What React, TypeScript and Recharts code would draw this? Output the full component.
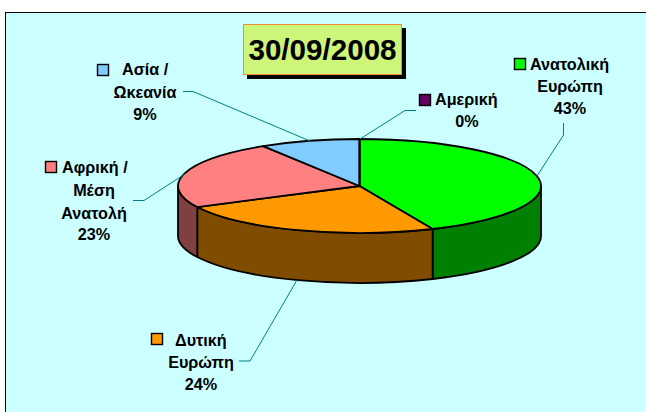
import { PieChart, Pie } from 'recharts';

const regions = ['Ανατολική Ευρώπη', 'Δυτική Ευρώπη', 'Αφρική / Μέση Ανατολή', 'Ασία / Ωκεανία', 'Αμερική'];
const shares = [43.4, 24.2, 23.49, 8.91, 0];
const topColors = ['#00ff00', '#ff9900', '#ff8080', '#80ccff', '#660066'];
const wallColors = ['#008000', '#804d00', '#804040', '#406680', '#330033'];
const chartTitle = '30/09/2008';

const tableData = regions.map((name, i) => ({
  name,
  value: shares[i],
  fill: topColors[i],
  wallFill: wallColors[i],
}));

// where each label sits, same order as regions
const labelLayout = [
  { lines: ['Ανατολική', 'Ευρώπη'], centers: [570, 570, 570], baselines: [70, 92, 114], key: [514, 58], leader: '563.5,123 563.5,135 537,176', keyText: 530 },
  { lines: ['Δυτική', 'Ευρώπη'], centers: [201, 201, 201], baselines: [346, 368, 390], key: [151, 333], leader: '239,361 250,361 297,280', keyText: 175 },
  { lines: ['Αφρική /', 'Μέση', 'Ανατολή'], centers: [94, 94, 94, 94], baselines: [173, 196, 219, 240], key: [45, 161], leader: '133,200.5 144,200.5 185,174', keyText: 62 },
  { lines: ['Ασία /', 'Ωκεανία'], centers: [145, 145, 145], baselines: [75, 98, 120], key: [97, 64], leader: '183,91.5 193,91.5 310,141', keyText: 122 },
  { lines: ['Αμερική'], centers: [467, 467], baselines: [105, 127], key: [419, 94], leader: '416,110.5 405,110.5 360,139', keyText: 435 },
];

const TILT = 47 / 181.5;
const DEPTH = 50;
const RAD = Math.PI / 180;

const pointOn = (cx: number, cy: number, r: number, deg: number) => ({
  x: cx + r * Math.cos(deg * RAD),
  y: cy - r * TILT * Math.sin(deg * RAD),
});

// flat top of a slice, the ellipse is squashed from the radius recharts hands over
const TopSlice = (props: any) => {
  const { cx, cy, outerRadius: r, startAngle, endAngle, fill } = props;
  const a = pointOn(cx, cy, r, startAngle);
  const b = pointOn(cx, cy, r, endAngle);
  const large = Math.abs(startAngle - endAngle) > 180 ? 1 : 0;
  const d = `M${cx},${cy} L${a.x},${a.y} A${r},${r * TILT} 0 ${large} 1 ${b.x},${b.y} Z`;
  return <path d={d} fill={fill} stroke="#000" strokeWidth={1.8} strokeLinejoin="round" />;
};

// outer wall, only the front half of the ellipse can be seen
const WallSlice = (props: any) => {
  const { cx, cy, outerRadius: r, startAngle, endAngle, wallFill } = props;
  const from = Math.min(startAngle, 0);
  const to = Math.max(endAngle, -180);
  if (from <= to) return <g />;
  const a = pointOn(cx, cy, r, from);
  const b = pointOn(cx, cy, r, to);
  const ry = r * TILT;
  const d = `M${a.x},${a.y} A${r},${ry} 0 0 1 ${b.x},${b.y} L${b.x},${b.y + DEPTH} A${r},${ry} 0 0 0 ${a.x},${a.y + DEPTH} Z`;
  return <path d={d} fill={wallFill} stroke="#000" strokeWidth={1.8} strokeLinejoin="round" />;
};

const renderLabel = (props: any) => {
  const { index, value, fill } = props;
  const item = labelLayout[index];
  const rows = [...item.lines, `${Math.round(value)}%`];
  return (
    <g key={index}>
      <rect x={item.key[0] + 0.5} y={item.key[1] + 0.5} width={11} height={11} fill={fill} stroke="#000" strokeWidth={1.4} />
      {rows.map((row, i) => (
        <text
          key={row}
          x={i === 0 ? item.keyText : item.centers[i]}
          y={item.baselines[i]}
          textAnchor={i === 0 ? 'start' : 'middle'}
          fontFamily="'Liberation Sans', Arial, sans-serif"
          fontWeight="bold"
          fontSize={16.2}
          fill="#000"
        >
          {row}
        </text>
      ))}
    </g>
  );
};

const renderLeader = (props: any) => (
  <polyline key={props.index} points={labelLayout[props.index].leader} fill="none" stroke="#008080" strokeWidth={1} />
);

export default function App() {
  return (
    <div style={{ position: 'absolute', left: 0, top: 0, width: 646, height: 412, background: '#fff', overflow: 'hidden' }}>
      <div
        style={{
          position: 'absolute',
          left: 5,
          top: 12,
          width: 641,
          height: 400,
          background: '#ccffff',
          borderLeft: '1px solid #000',
          borderTop: '1px solid #000',
          boxSizing: 'border-box',
        }}
      />
      <div style={{ position: 'absolute', left: 0, top: 0 }}>
        <PieChart width={646} height={412} margin={{ top: 0, right: 0, bottom: 0, left: 0 }}>
          <Pie
            data={tableData}
            dataKey="value"
            nameKey="name"
            cx={359.5}
            cy={186}
            outerRadius={181.5}
            startAngle={90}
            endAngle={-270}
            shape={WallSlice}
            isAnimationActive={false}
            legendType="none"
          />
          <Pie
            data={tableData}
            dataKey="value"
            nameKey="name"
            cx={359.5}
            cy={186}
            outerRadius={181.5}
            startAngle={90}
            endAngle={-270}
            shape={TopSlice}
            label={renderLabel}
            labelLine={renderLeader}
            isAnimationActive={false}
          />
        </PieChart>
      </div>
      <div
        style={{
          position: 'absolute',
          left: 243,
          top: 24,
          width: 159,
          height: 51,
          boxSizing: 'border-box',
          background: '#ccf57a',
          border: '1px solid #f08c32',
          boxShadow: '4px 4px 0 #000',
          fontFamily: "'Liberation Sans', Arial, sans-serif",
          fontWeight: 'bold',
          fontSize: 29.6,
          lineHeight: '49px',
          textAlign: 'center',
          color: '#000',
        }}
      >
        {chartTitle}
      </div>
    </div>
  );
}
